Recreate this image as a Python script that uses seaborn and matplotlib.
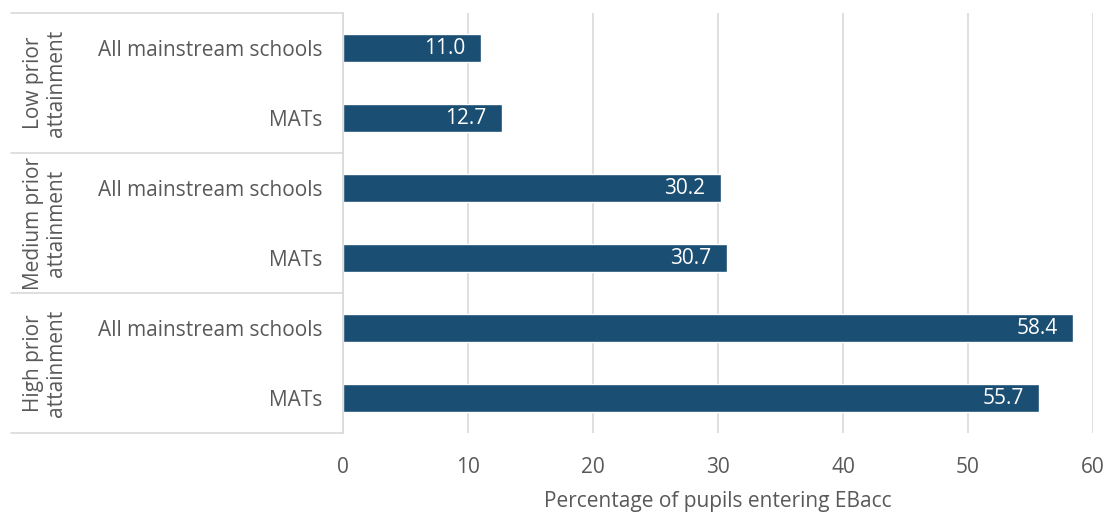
import matplotlib
matplotlib.use("Agg")
import matplotlib.pyplot as plt
import seaborn as sns
import pandas as pd

groups = ["Low prior\nattainment", "Medium prior\nattainment", "High prior\nattainment"]
school_types = ["All mainstream schools", "MATs"]
values = [11.0, 12.7, 30.2, 30.7, 58.4, 55.7]
x_ticks = [0, 10, 20, 30, 40, 50, 60]
x_label = "Percentage of pupils entering EBacc"

rows = []
for gi, g in enumerate(groups):
    for si, s in enumerate(school_types):
        rows.append({"row": f"{gi}-{si}", "group": g, "type": s, "value": values[gi * 2 + si]})
df = pd.DataFrame(rows)

sns.set_style("white")
plt.rcParams["font.family"] = ["Open Sans", "DejaVu Sans"]

TEXT = "#595959"
GRID = "#d9d9d9"
BAR = "#1a4e72"
FS = 15

fig = plt.figure(figsize=(11.04, 5.13), dpi=100)
ax = fig.add_axes([343 / 1104, 1 - 433 / 513, 750 / 1104, 420 / 513])

sns.barplot(data=df, y="row", x="value", orient="h", color=BAR, width=0.39,
            ax=ax, saturation=1, errorbar=None)

ax.set_xlim(0, 60)
ax.set_ylim(5.5, -0.5)
ax.set_xticks(x_ticks)
ax.set_xticklabels([str(t) for t in x_ticks], fontsize=FS, color=TEXT)
ax.set_yticks(range(len(df)))
ax.set_yticklabels(df["type"], fontsize=FS, color=TEXT)
ax.tick_params(axis="y", length=0, pad=15)
ax.tick_params(axis="x", length=7, color=GRID, pad=10, direction="out")
ax.set_ylabel("")
ax.set_xlabel(x_label, fontsize=FS, color=TEXT, labelpad=10)

for sp in ["top", "right", "bottom"]:
    ax.spines[sp].set_visible(False)
ax.spines["left"].set_color(GRID)
ax.spines["left"].set_linewidth(1.2)

ax.grid(axis="x", color=GRID, linewidth=1.2)
ax.set_axisbelow(True)

# value labels inside bar ends
for i, v in enumerate(df["value"]):
    ax.annotate(f"{v:.1f}", xy=(v, i), xytext=(-11, 0), textcoords="offset points",
                ha="right", va="center", color="white", fontsize=FS)

# group separators and group labels
tr = ax.get_yaxis_transform()
x0 = (11 - 343) / 750
for b in [-0.5, 1.5, 3.5, 5.5]:
    ax.plot([x0, 0], [b, b], transform=tr, color=GRID, linewidth=1.2, clip_on=False)
for gi, g in enumerate(groups):
    ax.text((45 - 343) / 750, gi * 2 + 0.5, g, transform=tr, rotation=90,
            ha="center", va="center", fontsize=FS, color=TEXT, linespacing=1.15,
            multialignment="center")

fig.savefig("out.png", dpi=100)
